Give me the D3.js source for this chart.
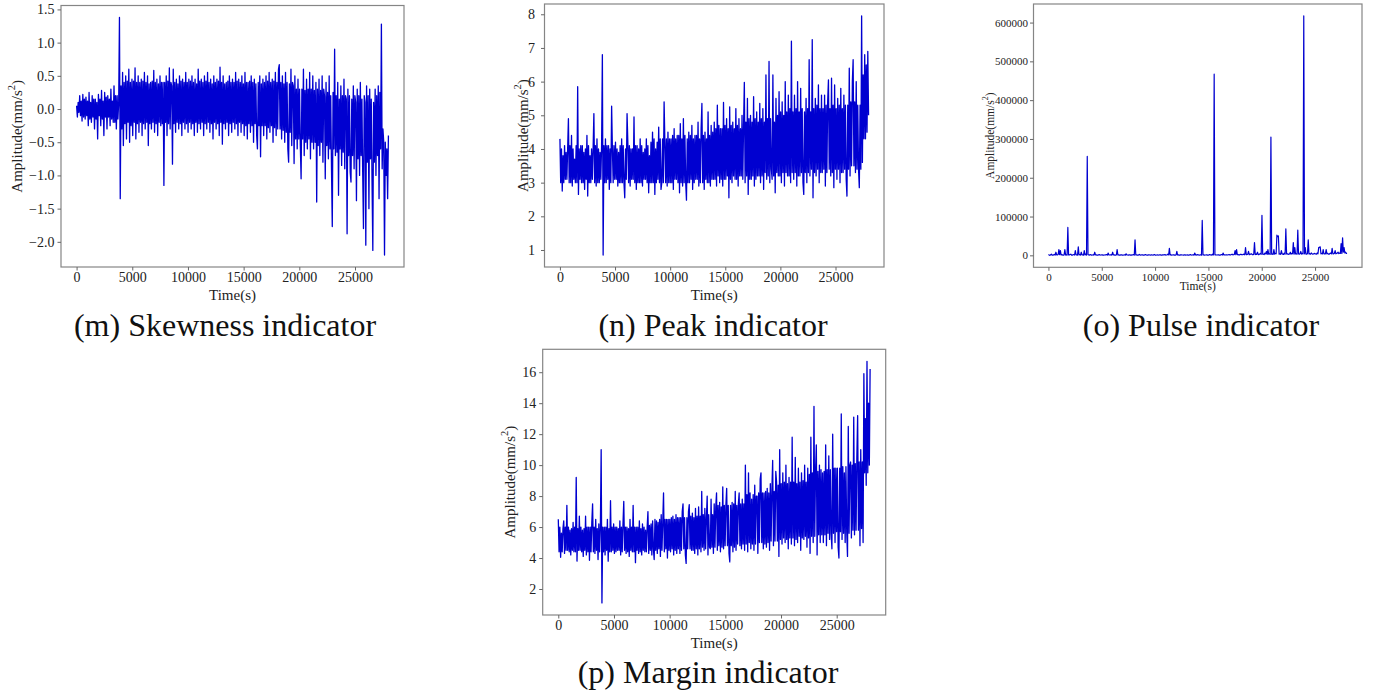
<!DOCTYPE html>
<html><head><meta charset="utf-8">
<script src="https://cdn.jsdelivr.net/npm/d3@7"></script>
<style>
body{margin:0;background:#fff}
svg{display:block}
</style>
</head><body>
<svg id="chart" width="1378" height="697"></svg>
<script>
// ---------- data ----------
const sampleInterval = 70; // seconds between samples
const timeTicks = [0, 5000, 10000, 15000, 20000, 25000];

const skewness = [
 0.05,-0.12,0.1,-0.05, 0.2,-0.1,0.12,-0.18, 0.22,-0.12,0.15,-0.15, 0.18,-0.1,0.12,-0.25, 0.25,-0.15,0.1,-0.2,
 0.2,-0.12,0.15,-0.3, 0.15,-0.15,0.1,-0.45, 0.22,-0.1,0.15,-0.25, 0.28,-0.15,0.12,-0.4, 0.25,-0.12,0.18,-0.3,
 0.2,-0.12,0.15,-0.25, 0.3,-0.15,0.12,-0.2, 0.35,-0.2,0.2,-0.3, 0.2,-0.15,0.1,1.38, -1.35,0.35,-0.3,0.55,
 -0.55,0.4,-0.22,0.5, -0.45,0.42,-0.2,0.6, -0.5,0.4,-0.25,0.45, -0.4,0.42,-0.2,0.62, -0.45,0.4,-0.22,0.5,
 -0.35,0.4,-0.2,0.45, -0.4,0.42,-0.22,0.55, -0.3,0.4,-0.2,0.5, -0.55,0.38,-0.22,0.4, -0.3,0.42,-0.2,0.58,
 -0.35,0.4,-0.22,0.45, -0.4,0.38,-0.2,0.5, -0.25,0.4,-0.22,0.4, -1.15,0.4,-0.2,0.5, -0.4,0.42,-0.22,0.62,
 -0.3,0.4,0.35,-0.83, 0.6,-0.22,0.4,-0.35, 0.45,-0.2,0.38,-0.3, 0.5,-0.22,0.42,-0.4, 0.45,-0.2,0.4,-0.3,
 0.55,-0.22,0.4,-0.35, 0.45,-0.2,0.42,-0.3, 0.5,-0.22,0.4,-0.4, 0.45,-0.2,0.38,-0.35, 0.6,-0.22,0.42,-0.3,
 0.45,-0.2,0.4,-0.4, 0.5,-0.22,0.42,-0.3, 0.55,-0.2,0.4,-0.35, 0.45,-0.22,0.38,-0.45, 0.5,-0.2,0.4,-0.3,
 0.45,-0.22,0.42,-0.4, 0.63,-0.2,0.4,-0.53, 0.5,-0.22,0.38,-0.3, 0.4,-0.2,0.42,-0.4, 0.5,-0.22,0.4,-0.35,
 0.45,-0.2,0.4,-0.3, 0.55,-0.22,0.42,-0.4, 0.45,-0.2,0.4,-0.35, 0.5,-0.22,0.38,-0.4, 0.55,-0.25,0.4,-0.45,
 0.4,-0.22,0.42,-0.35, 0.5,-0.25,0.4,-0.5, 0.45,-0.22,0.38,-0.4, -0.6,0.4,-0.25,0.5, -0.72,0.38,-0.25,0.45,
 -0.4,0.4,-0.25,0.5, -0.45,0.42,-0.28,0.55, -0.35,0.4,-0.25,0.45, -0.5,0.42,-0.28,0.55, -0.4,0.4,-0.3,0.6,
 0.67,-0.3,0.4,-0.45, 0.5,-0.32,0.38,-0.5, 0.55,-0.35,0.4,-0.6, -0.8,0.38,-0.35,0.6, -0.55,0.4,0.35,-0.82,
 0.5,-0.45,0.3,-0.6, 0.45,-0.45,0.3,-0.55, -1.05,0.3,-0.45,0.6, -0.7,0.28,-0.5,0.45, -0.6,0.3,-0.45,0.55,
 -0.75,0.3,-0.5,0.5, -0.6,0.28,-0.5,0.4, -1.4,0.3,-0.55,0.45, -0.7,0.28,-0.5,0.5, -0.8,0.3,0.2,-1.05,
 0.4,-0.55,0.25,-0.75, 0.5,-0.6,0.2,-0.9, -1.77,0.25,-0.6,0.9, -0.7,0.2,-0.65,0.4, -1.3,0.15,-0.6,0.35,
 -0.85,0.2,-0.65,0.45, -0.9,0.2,0.15,-1.88, 0.3,-0.7,0.2,-0.95, -1.1,0.15,-0.7,0.35, -0.9,0.2,0.1,-1.38,
 0.3,-0.75,0.2,-1.0, 0.4,-0.7,0.15,-0.95, -1.8,0.2,0.1,-2.05, 0.35,-0.8,0.2,-1.5, 0.3,-0.75,0.15,-1.1,
 -2.13,0.1,-0.8,0.3, -1.0,0.2,-0.7,0.35, -1.35,0.25,-0.6,1.28, -0.9,-0.3,-0.5,-2.2, -0.5,-1.0,-0.6,-1.35,
 -0.4
];

const peak = [
 4.3,3.0,4.0,2.75, 3.8,3.0,4.1,3.1, 3.9,3.1,4.0,4.9, 3.0,4.1,3.0,4.4, 2.9,4.0,3.1,3.7,
 3.0,4.1,3.0,5.85, 2.65,4.0,3.1,4.1, 3.0,4.1,3.0,3.9, 2.8,4.0,3.1,4.4, 2.6,4.1,3.0,3.8,
 3.0,4.0,3.1,4.0, 5.05,3.0,4.1,2.9, 4.3,3.0,4.0,3.0, 3.9,3.1,4.1,6.8, 0.85,4.1,3.0,4.3,
 3.0,4.1,3.1,4.1, 2.8,4.0,3.0,5.27, 4.0,3.0,4.1,3.1, 4.2,3.1,4.0,2.9, 3.9,3.0,4.1,3.0,
 4.3,3.0,4.1,3.0, 2.55,4.0,3.1,5.05, 4.2,3.0,4.1,2.9, 4.0,3.1,4.0,3.1, 4.95,3.0,4.1,2.8,
 4.1,3.0,4.0,3.0, 4.3,3.0,4.1,2.9, 3.9,3.1,4.0,3.1, 4.3,3.0,4.1,2.7, 3.8,3.0,4.2,3.0,
 4.5,3.0,4.3,2.65, 4.0,3.0,4.2,3.1, 4.65,3.0,4.3,2.8, 3.0,4.3,3.0,5.4, 4.2,3.0,4.3,2.9,
 4.5,3.0,4.3,3.0, 4.3,3.0,4.4,2.8, 4.6,3.1,4.3,3.1, 4.4,3.0,4.4,2.7, 4.75,3.0,4.3,2.9,
 4.9,3.0,4.4,3.0, 2.48,4.3,3.0,4.5, 3.0,4.4,3.1,4.7, 2.8,4.3,3.0,4.4, 3.1,4.4,3.1,4.8,
 2.9,4.3,3.0,4.6, 5.35,3.0,4.4,2.8, 4.5,3.1,4.3,3.0, 5.1,3.0,4.4,2.9, 4.7,3.1,4.5,3.1,
 4.8,3.1,4.6,2.9, 5.3,3.2,4.7,3.0, 4.6,3.1,4.6,2.9, 5.38,3.1,4.7,3.1, 4.9,3.2,4.6,2.55,
 5.25,3.1,4.7,3.0, 4.8,3.2,4.6,3.1, 5.2,3.1,4.7,2.9, 4.9,3.2,4.6,3.2, 5.0,3.1,4.7,5.98,
 3.0,4.8,3.2,5.5, 2.65,4.9,3.1,5.0, 3.1,4.8,3.2,5.55, 2.9,4.9,3.1,5.1, 3.2,4.8,3.2,5.35,
 3.0,4.9,3.2,5.2, 2.8,4.8,3.3,6.2, 3.1,4.9,3.2,6.6, 3.0,4.9,3.4,3.1, 6.2,3.2,4.8,2.7,
 5.5,3.3,5.0,3.2, 5.7,3.2,5.1,3.0, 5.4,3.3,5.0,2.9, 6.0,3.3,5.1,3.2, 5.6,3.2,5.2,3.0,
 7.2,3.3,5.1,3.1, 5.6,3.3,5.2,2.9, 6.0,3.2,5.1,3.2, 5.8,3.3,5.2,3.0, 2.65,5.1,3.3,5.5,
 3.0,5.2,3.3,6.65, 3.2,5.1,3.4,7.25, 2.55,5.2,3.3,5.5, 3.2,5.3,3.4,5.9, 3.0,5.2,3.3,5.6,
 3.3,5.2,3.4,5.6, 2.9,5.3,3.3,5.4, 6.05,3.4,5.2,3.2, 6.1,3.3,5.3,2.85, 5.9,3.4,5.2,3.1,
 5.5,3.4,5.3,3.0, 5.8,3.3,5.2,3.3, 5.6,3.4,5.3,3.1, 2.6,5.3,3.4,6.4, 3.2,5.4,3.5,6.0,
 6.65,3.5,5.4,3.3, 6.0,3.4,5.3,3.4, 2.85,5.3,3.4,7.95, 3.6,6.2,4.3,6.8, 4.3,6.5,4.5,6.9,
 5.0
];

const pulse = [
 2000,800,0,1500,3000,500,500,1200,2500,600,8000,1000,1000,2000,15000,1500,12000,800,2000,500,
 500,1200,15000,800,1500,600,72000,1000,1000,2000,3000,500,500,1500,2000,800,12000,1000,1000,600,
 22000,1000,2000,600,8000,1200,1500,500,12000,1000,3000,800,255000,1500,1000,600,2000,1000,500,800,
 1500,600,8000,1000,1000,500,500,1200,2000,600,800,1000,1500,500,500,800,1000,1200,2000,600,
 6000,800,800,1200,1500,600,8000,1000,1000,500,500,800,15000,1000,1200,600,600,1000,1000,500,
 500,800,1500,600,4000,1000,800,500,1000,1200,500,600,1200,800,2000,500,40000,1000,1000,600,
 500,1000,2500,600,800,1200,1500,500,600,1000,2000,800,500,600,1200,1000,800,500,1500,800,
 600,1000,2000,500,500,800,1000,600,800,1200,1500,500,600,1000,1200,800,2000,600,800,1000,
 3000,1000,18000,800,1500,600,800,1200,1200,500,600,1000,10000,800,1000,600,500,1200,1500,800,
 800,500,1200,1000,600,800,1000,500,500,1200,2000,600,800,1000,1500,500,6000,800,1000,600,
 2000,800,600,1000,1500,500,90000,1200,1200,600,800,1000,1500,500,500,1200,2000,800,1000,600,
 3000,1000,467000,1200,1500,800,800,1000,1200,600,600,1500,2000,800,6000,1000,1000,800,1500,1200,
 800,1500,2000,1000,1200,2000,3000,1200,1500,2500,12000,1500,15000,2000,2000,1000,1000,2500,2500,1500,
 1500,2500,3000,1500,20000,2000,2000,3000,10000,1500,2500,3500,4000,2000,1500,3000,33000,2000,3000,2500,
 8000,2000,2000,3500,5000,2500,103000,3000,3000,2000,6000,3500,10000,2500,15000,3000,4000,2500,305000,3000,
 3000,2500,15000,3000,5000,4000,52000,48000,50000,3000,4000,2500,12000,3500,3000,2500,6000,3000,68000,3500,
 4000,2500,3000,3500,8000,3000,5000,4000,33000,3000,20000,3500,4000,3000,65000,3500,3000,4000,10000,3000,
 5000,3500,617000,4000,20000,3000,3000,4500,40000,3500,4000,3000,6000,4000,3000,3500,5000,4000,4000,3000,
 6000,4000,20000,21000,22000,4000,5000,3500,15000,4000,4000,3500,15000,4000,5000,3000,3000,4500,6000,4000,
 18000,4000,4000,5000,12000,4000,5000,6000,8000,4500,6000,5000,30000,5000,45000,8000,20000,6000,8000,5000,
 5000
];

const margin = [
 6.5,4.4,6.0,4.05, 5.6,4.4,5.9,6.4, 4.3,6.0,4.5,7.4, 4.5,6.0,4.4,5.8, 4.2,5.9,4.5,6.3,
 4.4,6.0,4.4,9.2, 3.8,5.9,4.5,6.7, 4.5,6.0,4.4,5.8, 4.1,5.9,4.5,6.7, 4.2,6.0,4.4,6.0,
 3.85,6.0,4.4,6.3, 7.5,4.4,6.0,4.3, 6.5,4.5,5.9,3.9, 6.2,4.4,6.0,11.0, 1.1,6.0,4.4,6.0,
 4.2,6.0,4.5,6.5, 3.8,5.9,4.4,7.7, 4.4,6.0,4.5,6.2, 4.3,6.0,4.4,6.0, 4.5,5.9,4.5,6.4,
 4.2,6.0,4.4,6.2, 7.65,4.5,6.0,4.3, 6.0,4.4,5.9,4.1, 6.5,4.5,6.0,4.4, 7.4,4.4,6.0,3.7,
 6.0,4.5,6.0,4.3, 6.4,4.4,5.9,4.2, 6.2,4.5,6.0,4.4, 5.8,4.4,6.0,7.0, 4.3,6.1,4.5,6.2,
 4.2,6.4,4.6,3.9, 6.5,4.5,6.4,4.3, 6.3,4.6,6.5,4.1, 6.8,4.5,6.3,8.2, 4.4,6.5,4.6,6.5,
 4.0,6.5,4.5,6.5, 4.4,6.6,4.6,6.7, 4.2,6.5,4.5,6.8, 4.3,6.6,4.6,6.6, 4.3,6.6,4.5,7.0,
 7.5,4.6,6.6,4.2, 3.65,6.6,4.6,7.0, 7.45,4.6,6.7,4.5, 6.9,4.5,6.6,4.3, 7.2,4.6,6.7,4.2,
 7.3,4.6,6.7,4.4, 8.3,4.7,6.8,4.5, 7.2,4.6,6.6,8.0, 4.2,6.8,4.7,4.6, 7.8,4.7,6.8,4.3,
 7.5,4.7,7.3,8.2, 4.5,7.4,4.8,7.6, 4.4,7.3,4.7,8.6, 4.6,7.4,4.8,7.4, 8.5,4.8,7.4,4.3,
 3.75,7.4,4.8,7.6, 4.4,7.5,4.7,8.3, 4.5,7.4,4.9,7.5, 8.2,4.8,7.5,4.6, 7.8,4.9,7.5,4.5,
 10.0,4.9,8.1,4.4, 9.5,5.0,8.2,4.6, 7.8,4.9,8.1,4.5, 8.7,4.9,8.0,8.0, 4.3,8.2,5.0,9.1,
 9.5,5.0,8.2,4.6, 8.2,4.9,8.3,4.7, 8.5,5.0,8.2,4.5, 8.8,5.1,8.4,10.3, 4.8,8.3,5.1,9.6,
 8.9,5.1,8.7,4.1, 11.0,5.2,8.8,4.9, 9.5,5.3,8.9,5.0, 10.0,5.2,8.8,4.6, 9.2,5.3,8.9,4.9,
 11.8,5.3,8.9,4.8, 10.5,5.2,8.8,5.0, 9.8,5.4,8.9,4.5, 9.5,5.3,9.0,5.2, 10.0,5.4,8.9,4.7,
 9.8,5.3,9.4,4.3, 11.8,5.4,9.5,5.0, 13.8,5.4,9.6,11.3, 4.2,9.6,5.5,10.0, 5.0,9.7,5.5,9.5,
 5.0,9.6,5.5,11.3, 4.8,9.7,5.6,10.6, 5.2,9.7,5.6,4.6, 12.0,5.6,9.8,5.0, 9.8,5.7,9.8,4.7,
 4.0,9.8,5.7,13.3, 5.2,9.9,5.6,9.5, 5.0,9.9,5.7,4.1, 12.5,5.6,10.0,10.2, 5.3,10.0,5.8,13.1,
 5.5,10.1,5.8,10.5, 13.2,5.8,10.2,4.8, 11.0,5.9,10.2,5.0, 15.9,9.5,13.0,8.7, 16.7,9.5,14.0,10.0,
 16.2
];

const skewTicks = [-2.0, -1.5, -1.0, -0.5, 0.0, 0.5, 1.0, 1.5];
const peakTicks = [1, 2, 3, 4, 5, 6, 7, 8];
const pulseTicks = [0, 100000, 200000, 300000, 400000, 500000, 600000];
const marginTicks = [2, 4, 6, 8, 10, 12, 14, 16];

const panelTitles = ["(m) Skewness indicator", "(n) Peak indicator", "(o) Pulse indicator", "(p) Margin indicator"];
const xLabel = "Time(s)";

// ---------- layout ----------
const FONT = "'Liberation Serif','Times New Roman',Times,serif";
const panels = [
  {values: skewness, yTicks: skewTicks, fmt: d3.format(".1f"), title: panelTitles[0],
   box: {l: 61, t: 5.5, r: 404, b: 267}, fs: 14, yfs: 15, ylabX: 16.5, ypad: 3, sw: 1.3,
   xlabY: 300, titleX: 225, titleY: 336},
  {values: peak, yTicks: peakTicks, fmt: d3.format("d"), title: panelTitles[1],
   box: {l: 544.5, t: 4, r: 884, b: 267}, fs: 14, yfs: 15, ylabX: 523, ypad: 6, sw: 1.3,
   xlabY: 300, titleX: 713, titleY: 336},
  {values: pulse, yTicks: pulseTicks, fmt: d3.format("d"), title: panelTitles[2],
   box: {l: 1033.5, t: 4, r: 1362, b: 267.3}, fs: 11, yfs: 11.5, ylabX: 989.7, ypad: 2, sw: 1.2,
   xlabY: 290, titleX: 1201, titleY: 336},
  {values: margin, yTicks: marginTicks, fmt: d3.format("d"), title: panelTitles[3],
   box: {l: 542.7, t: 349.3, r: 885.7, b: 615}, fs: 14, yfs: 15, ylabX: 510, ypad: 3, sw: 1.3,
   xlabY: 648, titleX: 708, titleY: 683}
];

const svg = d3.select("#chart");
svg.append("rect").attr("width", 1378).attr("height", 697).attr("fill", "#fff");

function drawPanel(p) {
  const g = svg.append("g");
  const times = p.values.map((v, i) => i * sampleInterval);
  const xe = d3.extent(times), ye = d3.extent(p.values);
  const xp = (xe[1] - xe[0]) * 0.05, yp = (ye[1] - ye[0]) * 0.05;
  const x = d3.scaleLinear().domain([xe[0] - xp, xe[1] + xp]).range([p.box.l, p.box.r]);
  const y = d3.scaleLinear().domain([ye[0] - yp, ye[1] + yp]).range([p.box.b, p.box.t]);

  g.append("path")
    .datum(p.values)
    .attr("d", d3.line().x((d, i) => x(times[i])).y(d => y(d)))
    .attr("fill", "none")
    .attr("stroke", "#0000d0")
    .attr("stroke-width", p.sw)
    .attr("stroke-linejoin", "round");

  g.append("rect")
    .attr("x", p.box.l).attr("y", p.box.t)
    .attr("width", p.box.r - p.box.l).attr("height", p.box.b - p.box.t)
    .attr("fill", "none").attr("stroke", "#858585").attr("stroke-width", 1.2);

  const xa = g.append("g").attr("transform", `translate(0,${p.box.b})`)
    .call(d3.axisBottom(x).tickValues(timeTicks).tickFormat(d3.format("d")).tickSize(3.5).tickPadding(2));
  const ya = g.append("g").attr("transform", `translate(${p.box.l},0)`)
    .call(d3.axisLeft(y).tickValues(p.yTicks).tickFormat(p.fmt).tickSize(3.5).tickPadding(p.ypad));
  [xa, ya].forEach(a => {
    a.select(".domain").remove();
    a.selectAll(".tick line").attr("stroke", "#666");
    a.selectAll("text").attr("font-family", FONT).attr("font-size", p.fs).attr("fill", "#222");
  });

  g.append("text")
    .attr("x", (p.box.l + p.box.r) / 2).attr("y", p.xlabY)
    .attr("text-anchor", "middle").attr("font-family", FONT).attr("font-size", p.yfs).attr("fill", "#222")
    .text(xLabel);

  const yl = g.append("text")
    .attr("transform", `translate(${p.ylabX},${(p.box.t + p.box.b) / 2}) rotate(-90)`)
    .attr("text-anchor", "middle").attr("dominant-baseline", "central")
    .attr("font-family", FONT).attr("font-size", p.yfs).attr("fill", "#222");
  yl.append("tspan").text("Amplitude(mm/s");
  yl.append("tspan").attr("font-size", p.yfs * 0.7).attr("dy", -p.yfs * 0.38).text("2");
  yl.append("tspan").attr("dy", p.yfs * 0.38).text(")");

  g.append("text")
    .attr("x", p.titleX).attr("y", p.titleY)
    .attr("text-anchor", "middle").attr("font-family", FONT).attr("font-size", 32).attr("fill", "#111")
    .text(p.title);
}

panels.forEach(drawPanel);
</script>
</body></html>
